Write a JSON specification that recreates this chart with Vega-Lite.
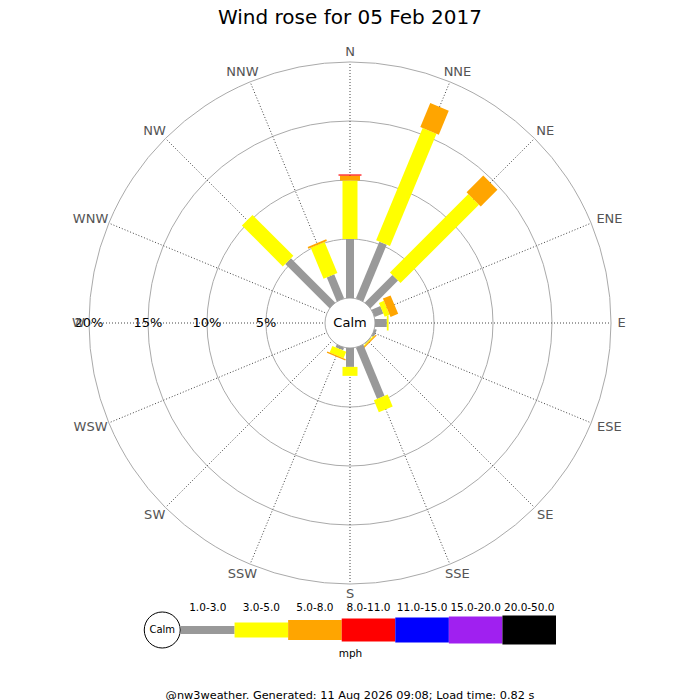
{
  "$schema": "https://vega.github.io/schema/vega-lite/v6.json",
  "background": "white",
  "padding": {"top": 8, "left": 0, "right": 0, "bottom": 0},
  "spacing": 0,
  "bounds": "flush",
  "config": {"view": {"stroke": null}, "font": "DejaVu Sans"},
  "resolve": {"scale": {"size": "independent", "strokeWidth": "independent", "color": "independent"}},
  "title": {
    "text": "Wind rose for 05 Feb 2017",
    "font": "DejaVu Sans",
    "fontSize": 20,
    "fontWeight": "normal",
    "color": "black",
    "anchor": "middle",
    "offset": 13
  },
  "datasets": {
    "rose": [
      {"dir": "N", "deg": 0, "bin": "1.0-3.0", "lo": 1, "pct": 5.0},
      {"dir": "N", "deg": 0, "bin": "3.0-5.0", "lo": 3, "pct": 4.95},
      {"dir": "N", "deg": 0, "bin": "5.0-8.0", "lo": 5, "pct": 0.42},
      {"dir": "N", "deg": 0, "bin": "8.0-11.0", "lo": 8, "pct": 0.1},
      {"dir": "NNE", "deg": 22.5, "bin": "1.0-3.0", "lo": 1, "pct": 5.2},
      {"dir": "NNE", "deg": 22.5, "bin": "3.0-5.0", "lo": 3, "pct": 10.3},
      {"dir": "NNE", "deg": 22.5, "bin": "5.0-8.0", "lo": 5, "pct": 2.2},
      {"dir": "NE", "deg": 45, "bin": "1.0-3.0", "lo": 1, "pct": 3.3},
      {"dir": "NE", "deg": 45, "bin": "3.0-5.0", "lo": 3, "pct": 9.4},
      {"dir": "NE", "deg": 45, "bin": "5.0-8.0", "lo": 5, "pct": 2.0},
      {"dir": "ENE", "deg": 67.5, "bin": "1.0-3.0", "lo": 1, "pct": 0.8},
      {"dir": "ENE", "deg": 67.5, "bin": "3.0-5.0", "lo": 3, "pct": 0.45},
      {"dir": "ENE", "deg": 67.5, "bin": "5.0-8.0", "lo": 5, "pct": 0.7},
      {"dir": "E", "deg": 90, "bin": "1.0-3.0", "lo": 1, "pct": 1.0},
      {"dir": "E", "deg": 90, "bin": "3.0-5.0", "lo": 3, "pct": 0.15},
      {"dir": "ESE", "deg": 112.5, "bin": "1.0-3.0", "lo": 1, "pct": 0.2},
      {"dir": "SE", "deg": 135, "bin": "1.0-3.0", "lo": 1, "pct": 0.05},
      {"dir": "SE", "deg": 135, "bin": "3.0-5.0", "lo": 3, "pct": 0.08},
      {"dir": "SE", "deg": 135, "bin": "5.0-8.0", "lo": 5, "pct": 0.1},
      {"dir": "SSE", "deg": 157.5, "bin": "1.0-3.0", "lo": 1, "pct": 4.7},
      {"dir": "SSE", "deg": 157.5, "bin": "3.0-5.0", "lo": 3, "pct": 1.1},
      {"dir": "S", "deg": 180, "bin": "1.0-3.0", "lo": 1, "pct": 1.6},
      {"dir": "S", "deg": 180, "bin": "3.0-5.0", "lo": 3, "pct": 0.76},
      {"dir": "SSW", "deg": 202.5, "bin": "1.0-3.0", "lo": 1, "pct": 0.25},
      {"dir": "SSW", "deg": 202.5, "bin": "3.0-5.0", "lo": 3, "pct": 0.6},
      {"dir": "SSW", "deg": 202.5, "bin": "5.0-8.0", "lo": 5, "pct": 0.12},
      {"dir": "NW", "deg": 315, "bin": "1.0-3.0", "lo": 1, "pct": 5.3},
      {"dir": "NW", "deg": 315, "bin": "3.0-5.0", "lo": 3, "pct": 4.9},
      {"dir": "NNW", "deg": 337.5, "bin": "1.0-3.0", "lo": 1, "pct": 2.2},
      {"dir": "NNW", "deg": 337.5, "bin": "3.0-5.0", "lo": 3, "pct": 2.85},
      {"dir": "NNW", "deg": 337.5, "bin": "5.0-8.0", "lo": 5, "pct": 0.15}
    ],
    "dirs": [
      {"dir": "N", "deg": 0}, {"dir": "NNE", "deg": 22.5}, {"dir": "NE", "deg": 45}, {"dir": "ENE", "deg": 67.5},
      {"dir": "E", "deg": 90}, {"dir": "ESE", "deg": 112.5}, {"dir": "SE", "deg": 135}, {"dir": "SSE", "deg": 157.5},
      {"dir": "S", "deg": 180}, {"dir": "SSW", "deg": 202.5}, {"dir": "SW", "deg": 225}, {"dir": "WSW", "deg": 247.5},
      {"dir": "W", "deg": 270}, {"dir": "WNW", "deg": 292.5}, {"dir": "NW", "deg": 315}, {"dir": "NNW", "deg": 337.5}
    ],
    "rings": [{"p": 5}, {"p": 10}, {"p": 15}, {"p": 20}],
    "calm": [{"label": "Calm"}],
    "bins": [
      {"bin": "1.0-3.0", "lo": 1},
      {"bin": "3.0-5.0", "lo": 3},
      {"bin": "5.0-8.0", "lo": 5},
      {"bin": "8.0-11.0", "lo": 8},
      {"bin": "11.0-15.0", "lo": 11},
      {"bin": "15.0-20.0", "lo": 15},
      {"bin": "20.0-50.0", "lo": 20}
    ]
  },
  "vconcat": [
    {
      "width": 700,
      "height": 560,
      "layer": [
        {
          "data": {"name": "rings"},
          "transform": [
            {"calculate": "(2.12 + datum.p) * (2.12 + datum.p)", "as": "r2"},
            {"calculate": "0", "as": "o"}
          ],
          "mark": {"type": "point", "shape": "circle", "filled": false, "stroke": "#aaaaaa", "strokeWidth": 1, "opacity": 1},
          "encoding": {
            "x": {"field": "o", "type": "quantitative", "scale": {"domain": [-29.661, 29.661], "nice": false, "zero": false}, "axis": null},
            "y": {"field": "o", "type": "quantitative", "scale": {"domain": [-23.559, 23.898], "nice": false, "zero": false}, "axis": null},
            "size": {"field": "r2", "type": "quantitative", "legend": null, "scale": {"type": "linear", "domain": [0, 500], "range": [0, 278480], "zero": true, "nice": false}}
          }
        },
        {
          "data": {"name": "dirs"},
          "transform": [
            {"calculate": "0", "as": "o"},
            {"calculate": "22.12 * sin(datum.deg * PI / 180)", "as": "ex"},
            {"calculate": "22.12 * cos(datum.deg * PI / 180)", "as": "ey"}
          ],
          "mark": {"type": "rule", "stroke": "#444444", "strokeWidth": 1, "strokeDash": [1, 2]},
          "encoding": {
            "x": {"field": "o", "type": "quantitative"},
            "y": {"field": "o", "type": "quantitative"},
            "x2": {"field": "ex"},
            "y2": {"field": "ey"}
          }
        },
        {
          "data": {"name": "calm"},
          "transform": [{"calculate": "0", "as": "o"}],
          "mark": {"type": "point", "shape": "circle", "size": 2500, "filled": true, "fill": "white", "stroke": "#aaaaaa", "strokeWidth": 1, "opacity": 1, "fillOpacity": 1},
          "encoding": {
            "x": {"field": "o", "type": "quantitative"},
            "y": {"field": "o", "type": "quantitative"}
          }
        },
        {
          "data": {"name": "rose"},
          "transform": [
            {"window": [{"op": "sum", "field": "pct", "as": "cum"}], "groupby": ["deg"], "sort": [{"field": "lo"}], "frame": [null, 0]},
            {"calculate": "2.12 + datum.cum", "as": "r1"},
            {"calculate": "datum.r1 - datum.pct", "as": "r0"},
            {"calculate": "datum.r0 * sin(datum.deg * PI / 180)", "as": "x0"},
            {"calculate": "datum.r0 * cos(datum.deg * PI / 180)", "as": "y0"},
            {"calculate": "datum.r1 * sin(datum.deg * PI / 180)", "as": "x1"},
            {"calculate": "datum.r1 * cos(datum.deg * PI / 180)", "as": "y1"}
          ],
          "mark": {"type": "rule", "strokeCap": "butt"},
          "encoding": {
            "x": {"field": "x0", "type": "quantitative"},
            "y": {"field": "y0", "type": "quantitative"},
            "x2": {"field": "x1"},
            "y2": {"field": "y1"},
            "color": {
              "field": "bin", "type": "nominal", "legend": null,
              "scale": {
                "domain": ["1.0-3.0", "3.0-5.0", "5.0-8.0", "8.0-11.0", "11.0-15.0", "15.0-20.0", "20.0-50.0"],
                "range": ["#999999", "#ffff00", "#ffa500", "#ff0000", "#0000ff", "#a020f0", "#000000"]
              }
            },
            "strokeWidth": {
              "field": "lo", "type": "quantitative", "legend": null,
              "scale": {"type": "linear", "domain": [1, 3, 5, 8, 11, 15, 20], "range": [8, 15, 20, 23, 25, 27, 29], "zero": false, "nice": false}
            }
          }
        },
        {
          "data": {"name": "rings"},
          "transform": [
            {"calculate": "-(2.12 + datum.p)", "as": "lx"},
            {"calculate": "0", "as": "o"},
            {"calculate": "datum.p + '%'", "as": "label"}
          ],
          "mark": {"type": "text", "fontSize": 13, "color": "black", "align": "center", "baseline": "middle"},
          "encoding": {
            "x": {"field": "lx", "type": "quantitative"},
            "y": {"field": "o", "type": "quantitative"},
            "text": {"field": "label"}
          }
        },
        {
          "data": {"name": "dirs"},
          "transform": [
            {"calculate": "(22.63 + length(datum.dir) * 0.39) * sin(datum.deg * PI / 180)", "as": "tx"},
            {"calculate": "23.0 * cos(datum.deg * PI / 180)", "as": "ty"}
          ],
          "mark": {"type": "text", "fontSize": 13, "color": "#555555", "align": "center", "baseline": "middle"},
          "encoding": {
            "x": {"field": "tx", "type": "quantitative"},
            "y": {"field": "ty", "type": "quantitative"},
            "text": {"field": "dir"}
          }
        },
        {
          "data": {"name": "calm"},
          "transform": [{"calculate": "0", "as": "o"}],
          "mark": {"type": "text", "fontSize": 13, "color": "black", "align": "center", "baseline": "middle"},
          "encoding": {
            "x": {"field": "o", "type": "quantitative"},
            "y": {"field": "o", "type": "quantitative"},
            "text": {"field": "label"}
          }
        }
      ]
    },
    {
      "width": 700,
      "height": 48,
      "title": {
        "text": "@nw3weather. Generated: 11 Aug 2026 09:08; Load time: 0.82 s",
        "orient": "bottom",
        "font": "DejaVu Sans",
        "fontSize": 11.3,
        "fontWeight": "normal",
        "color": "black",
        "anchor": "middle",
        "offset": 31
      },
      "layer": [
        {
          "data": {"name": "bins"},
          "transform": [{"calculate": "29", "as": "yc"}],
          "mark": {"type": "tick", "orient": "vertical", "thickness": 53.57, "opacity": 1},
          "encoding": {
            "x": {
              "field": "bin", "type": "nominal",
              "scale": {
                "type": "band",
                "domain": ["Calm", "1.0-3.0", "3.0-5.0", "5.0-8.0", "8.0-11.0", "11.0-15.0", "15.0-20.0", "20.0-50.0"],
                "range": [127.43, 556],
                "paddingInner": 0, "paddingOuter": 0
              },
              "axis": {"title": "mph", "orient": "bottom", "labels": false, "ticks": false, "domain": false, "grid": false, "titleFontSize": 10.5, "titleFontWeight": "normal", "titleColor": "black", "titlePadding": -1, "titleX": 350}
            },
            "y": {"field": "yc", "type": "quantitative", "scale": {"domain": [0, 48], "reverse": true, "nice": false, "zero": false}, "axis": null},
            "color": {
              "field": "bin", "type": "nominal", "legend": null,
              "scale": {
                "domain": ["1.0-3.0", "3.0-5.0", "5.0-8.0", "8.0-11.0", "11.0-15.0", "15.0-20.0", "20.0-50.0"],
                "range": ["#999999", "#ffff00", "#ffa500", "#ff0000", "#0000ff", "#a020f0", "#000000"]
              }
            },
            "size": {
              "field": "lo", "type": "quantitative", "legend": null,
              "scale": {"type": "linear", "domain": [1, 3, 5, 8, 11, 15, 20], "range": [8, 15, 20, 23, 25, 27, 29], "zero": false, "nice": false}
            }
          }
        },
        {
          "data": {"name": "bins"},
          "transform": [{"calculate": "7", "as": "yl"}],
          "mark": {"type": "text", "fontSize": 10.5, "color": "black", "align": "center", "baseline": "middle"},
          "encoding": {
            "x": {"field": "bin", "type": "nominal"},
            "y": {"field": "yl", "type": "quantitative"},
            "text": {"field": "bin"}
          }
        },
        {
          "data": {"name": "calm"},
          "transform": [{"calculate": "29", "as": "yc"}],
          "mark": {"type": "point", "shape": "circle", "size": 1296, "filled": true, "fill": "white", "fillOpacity": 1, "stroke": "black", "strokeWidth": 1, "opacity": 1},
          "encoding": {
            "x": {"field": "label", "type": "nominal", "bandPosition": 0.65},
            "y": {"field": "yc", "type": "quantitative"}
          }
        },
        {
          "data": {"name": "calm"},
          "transform": [{"calculate": "29", "as": "yc"}],
          "mark": {"type": "text", "fontSize": 10, "color": "black", "align": "center", "baseline": "middle"},
          "encoding": {
            "x": {"field": "label", "type": "nominal", "bandPosition": 0.65},
            "y": {"field": "yc", "type": "quantitative"},
            "text": {"field": "label"}
          }
        }
      ]
    }
  ]
}
